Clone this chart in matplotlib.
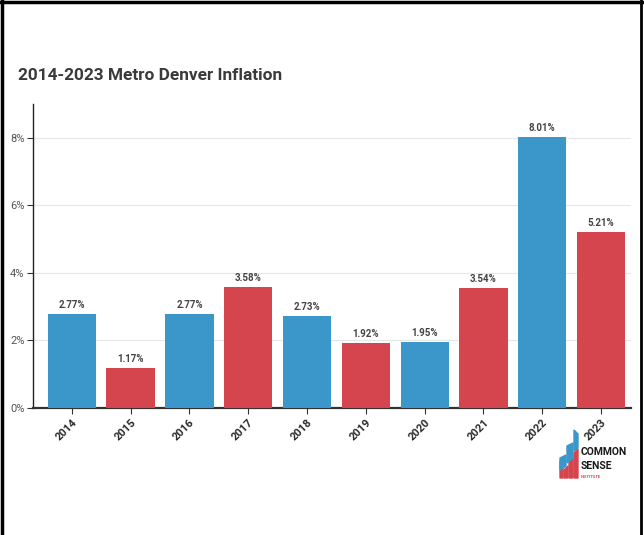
import numpy as np
import matplotlib
matplotlib.use('Agg')
import matplotlib.pyplot as plt
import matplotlib.patches as mpatches
from matplotlib.lines import Line2D

years = ['2014', '2015', '2016', '2017', '2018', '2019', '2020', '2021', '2022', '2023']
inflation = [2.77, 1.17, 2.77, 3.58, 2.73, 1.92, 1.95, 3.54, 8.01, 5.21]
yticks = [0, 2, 4, 6, 8]

blue = '#3B97CA'
red = '#D4454D'
colors = [blue if i % 2 == 0 else red for i in range(len(years))]

plt.rcParams['font.family'] = ['Roboto', 'DejaVu Sans']

fig = plt.figure(figsize=(6.44, 5.35), dpi=100)
ax = fig.add_axes([0.0512, 0.2374, 0.9288, 0.5682])

x = np.arange(len(years))
bars = ax.bar(x, inflation, width=0.82, color=colors, zorder=3)
for xi, v in zip(x, inflation):
    ax.text(xi, v + 0.12, f'{v:.2f}%', ha='center', va='bottom',
            fontsize=7, fontweight='bold', color='#444444', zorder=4)

ax.set_xlim(-0.66, 9.51)
ax.set_ylim(0, 9)
ax.set_yticks(yticks)
ax.set_yticklabels([f'{t}%' for t in yticks], fontsize=8, color='#555555')
ax.set_xticks(x)
ax.set_xticklabels(years, rotation=45, ha='right', rotation_mode='anchor',
                   fontsize=8, fontweight='bold', color='#2a2a2a')
ax.grid(axis='y', color='#e6e6e6', lw=0.8, zorder=0)

for side in ['top', 'right']:
    ax.spines[side].set_visible(False)
ax.spines['left'].set_color('#222222')
ax.spines['left'].set_linewidth(1.0)
ax.spines['bottom'].set_color('#333333')
ax.spines['bottom'].set_linewidth(1.6)
ax.tick_params(axis='y', length=4, width=0.8, color='#333333', pad=2)
ax.tick_params(axis='x', length=4, width=0.8, color='#333333', pad=3)

fig.text(0.028, 0.858, '2014-2023 Metro Denver Inflation', fontsize=12.4,
         fontweight='bold', color='#3a3a3a', ha='left', va='center')

# outer frame (left, top, right)
fig.add_artist(Line2D([0.003, 0.003], [0, 1], color='black', lw=2.5, transform=fig.transFigure))
fig.add_artist(Line2D([0, 1], [0.997, 0.997], color='black', lw=2.5, transform=fig.transFigure))
fig.add_artist(Line2D([0.9955, 0.9955], [0, 1], color='black', lw=2.0, transform=fig.transFigure))

# logo
W, H = 1 / 644, 1 / 535
logo = [
    ([(560, 478), (563, 478), (563, 463), (560, 461)], red),
    ([(564, 478), (568, 478), (568, 466), (564, 470)], red),
    ([(569, 478), (573, 478), (573, 458), (569, 462)], red),
    ([(574, 478), (578, 478), (578, 449), (574, 453)], red),
    ([(560, 470), (566, 466), (566, 455), (560, 458)], blue),
    ([(567, 463), (573, 458), (573, 443), (567, 446)], blue),
    ([(574, 451), (578, 448), (578, 434), (574, 430)], blue),
]
for pts, c in logo:
    fig.add_artist(mpatches.Polygon([(px * W, 1 - py * H) for px, py in pts],
                                    closed=True, color=c, transform=fig.transFigure))
fig.text(581 / 644, 1 - 452 / 535, 'COMMON', fontsize=7.5, fontweight='bold',
         color='#1a1a1a', ha='left', va='center')
fig.text(581 / 644, 1 - 466 / 535, 'SENSE', fontsize=7.5, fontweight='bold',
         color='#1a1a1a', ha='left', va='center')
fig.text(581 / 644, 1 - 477 / 535, 'INSTITUTE', fontsize=3, fontweight='bold',
         color=red, ha='left', va='center')

fig.savefig('out.png', dpi=100)
